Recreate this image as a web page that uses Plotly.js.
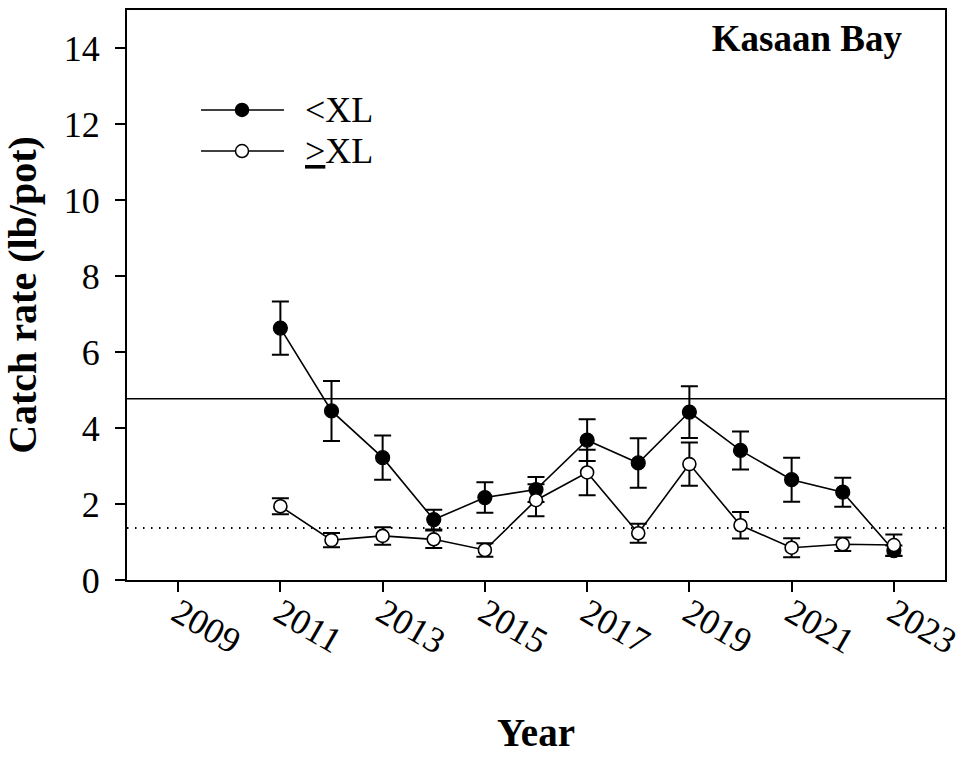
<!DOCTYPE html>
<html>
<head>
<meta charset="utf-8">
<script src="https://cdn.plot.ly/plotly-3.0.1.min.js"></script>
<style>html,body{margin:0;padding:0;background:#fff;}#chart{width:962px;height:760px;}</style>
</head>
<body>
<div id="chart"></div>
<script>
// ---- data ----
const years = [2011, 2012, 2013, 2014, 2015, 2016, 2017, 2018, 2019, 2020, 2021, 2022, 2023];
const smallCrab = [6.63, 4.45, 3.22, 1.59, 2.17, 2.38, 3.68, 3.08, 4.42, 3.41, 2.64, 2.31, 0.77];
const smallCrabErr = [0.70, 0.79, 0.58, 0.26, 0.40, 0.33, 0.55, 0.65, 0.68, 0.50, 0.58, 0.38, 0.14];
const largeCrab = [1.94, 1.05, 1.16, 1.07, 0.79, 2.10, 2.83, 1.23, 3.05, 1.44, 0.85, 0.94, 0.92];
const largeCrabErr = [0.21, 0.19, 0.23, 0.23, 0.18, 0.42, 0.60, 0.25, 0.57, 0.35, 0.25, 0.18, 0.28];
const seriesNames = ['&lt;XL', '<u>&gt;</u>XL'];
const smallCrabReference = 4.77;   // solid reference line
const largeCrabReference = 1.37;   // dotted reference line
const xTickVals = [2009, 2011, 2013, 2015, 2017, 2019, 2021, 2023];
const xTickText = ['2009', '2011', '2013', '2015', '2017', '2019', '2021', '2023'];
const yTickVals = [0, 2, 4, 6, 8, 10, 12, 14];
const chartTitle = 'Kasaan Bay';
const xTitle = 'Year';
const yTitle = 'Catch rate (lb/pot)';

const FONT = 'Liberation Serif, Times New Roman, serif';

const traces = [
  {
    x: years, y: smallCrab, type: 'scatter', mode: 'lines+markers', name: seriesNames[0],
    line: {color: 'black', width: 1.6},
    marker: {symbol: 'circle', size: 14, color: 'black', line: {color: 'black', width: 1.2}},
    error_y: {type: 'data', array: smallCrabErr, visible: true, color: 'black', thickness: 2, width: 8.5},
    showlegend: false, cliponaxis: false
  },
  {
    x: years, y: largeCrab, type: 'scatter', mode: 'lines+markers', name: seriesNames[1],
    line: {color: 'black', width: 1.6},
    marker: {symbol: 'circle', size: 13, color: 'white', line: {color: 'black', width: 1.6}},
    error_y: {type: 'data', array: largeCrabErr, visible: true, color: 'black', thickness: 2, width: 8.5},
    showlegend: false, cliponaxis: false
  }
];

// legend geometry (paper coordinates)
const legRows = [0.8246, 0.7526];
const legLineX = [0.0905, 0.1919];
const legMarkX = 0.1406;
const legTextX = 0.2152;

const shapes = [
  {type: 'line', xref: 'paper', yref: 'y', x0: 0, x1: 1, y0: smallCrabReference, y1: smallCrabReference,
   line: {color: 'black', width: 1.6}, layer: 'below'},
  {type: 'line', xref: 'paper', yref: 'y', x0: 0, x1: 1, y0: largeCrabReference, y1: largeCrabReference,
   line: {color: 'black', width: 2, dash: '1.5px,6.5px'}, layer: 'below'}
];
const fills = ['black', 'white'];
legRows.forEach((ry, i) => {
  shapes.push({type: 'line', xref: 'paper', yref: 'paper', x0: legLineX[0], x1: legLineX[1], y0: ry, y1: ry,
    line: {color: 'black', width: 1.6}});
  shapes.push({type: 'circle', xref: 'paper', yref: 'paper', xsizemode: 'pixel', ysizemode: 'pixel',
    xanchor: legMarkX, yanchor: ry, x0: -6.5, x1: 6.5, y0: -6.5, y1: 6.5,
    fillcolor: fills[i], line: {color: 'black', width: 1.5}});
});

const annotations = legRows.map((ry, i) => ({
  xref: 'paper', yref: 'paper', x: legTextX, y: ry, xanchor: 'left', yanchor: 'middle',
  text: seriesNames[i], showarrow: false, font: {family: FONT, size: 36, color: 'black'}
}));

const layout = {
  width: 962, height: 760,
  margin: {l: 127, r: 17, t: 10, b: 180, pad: 0},
  paper_bgcolor: 'white', plot_bgcolor: 'white',
  font: {family: FONT, size: 36, color: 'black'},
  title: {text: '<b>' + chartTitle + '</b>', xref: 'paper', yref: 'paper', x: 0.9474, xanchor: 'right',
          y: 0.95, yanchor: 'middle', font: {family: FONT, size: 37, color: 'black'}},
  showlegend: false,
  xaxis: {
    range: [2008, 2024], tickvals: xTickVals, ticktext: xTickText, tickangle: 30,
    ticks: 'outside', ticklen: 10, tickwidth: 2, tickcolor: 'black',
    showline: true, linewidth: 2, linecolor: 'black', mirror: true,
    showgrid: false, zeroline: false, automargin: false, ticklabeloverflow: 'allow',
    ticklabelstandoff: -14,
    tickfont: {family: FONT, size: 36},
    title: {text: '<b>' + xTitle + '</b>', font: {family: FONT, size: 39}, standoff: 58}
  },
  yaxis: {
    range: [0, 15], tickvals: yTickVals,
    ticks: 'outside', ticklen: 10, tickwidth: 2, tickcolor: 'black',
    showline: true, linewidth: 2, linecolor: 'black', mirror: true,
    showgrid: false, zeroline: false, automargin: false,
    ticklabelstandoff: 8,
    tickfont: {family: FONT, size: 36},
    title: {text: '<b>' + yTitle + '</b>', font: {family: FONT, size: 40}, standoff: 20}
  },
  shapes: shapes,
  annotations: annotations
};

Plotly.newPlot('chart', traces, layout, {staticPlot: true, displayModeBar: false});
</script>
</body>
</html>
